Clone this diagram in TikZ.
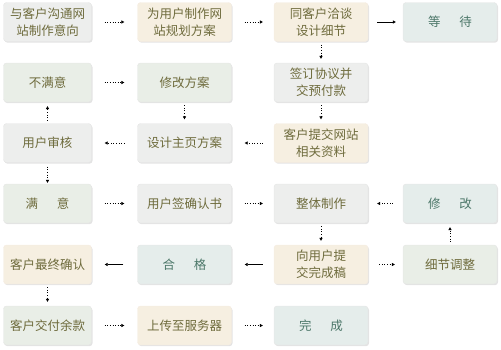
\documentclass[tikz,border=0pt]{standalone}
\usepackage{xcolor}
\usepackage{fontspec}
\setmainfont{Noto Sans CJK SC}
\usepackage{tikz}
\usetikzlibrary{arrows.meta,shadows}

\definecolor{gryfill}{HTML}{EDEEED}
\definecolor{bgefill}{HTML}{F6EFE1}
\definecolor{grnfill}{HTML}{E9EEE7}
\definecolor{blufill}{HTML}{E5EDEB}
\definecolor{olivetxt}{HTML}{6E6B3C}
\definecolor{tealtxt}{HTML}{4C7769}

\begin{document}
\begin{tikzpicture}[
  x=1pt, y=-1pt,
  every node/.style={font=\fontsize{12.5}{17}\selectfont},
  box/.style={draw=black!10, rounded corners=3pt, inner sep=2pt,
              minimum width=94pt, minimum height=39pt, align=center,
              text=olivetxt, line width=0.4pt,
              drop shadow={shadow xshift=1pt, shadow yshift=-1.2pt,
                           fill=black!18, opacity=0.6}},
  gry/.style={box, fill=gryfill},
  bge/.style={box, fill=bgefill, draw=brown!15},
  grn/.style={box, fill=grnfill},
  blu/.style={box, fill=blufill, text=tealtxt},
  narrow/.style={minimum width=88pt},
  dot/.style={dotted, line width=0.6pt, -{Triangle[length=3pt,width=3.2pt]}},
  sol/.style={line width=0.7pt, -{Triangle[length=3pt,width=3.2pt]}},
]
  \useasboundingbox (0,0) rectangle (501,349);

  % Row one
  \node[gry, narrow] (talk) at (47.5, 22) {与客户沟通网\\站制作意向};
  \node[bge] (plan) at (184.5, 22) {为用户制作网\\站规划方案};
  \node[bge] (detail) at (321, 22) {同客户洽谈\\设计细节};
  \node[blu] (wait) at (450, 22) {等\hspace{1.5em}待};

  % Row two
  \node[grn, narrow] (unhappy) at (47.5, 82.5) {不满意};
  \node[grn] (revplan) at (184.5, 82.5) {修改方案};
  \node[gry] (sign) at (321, 82.5) {签订协议并\\交预付款};

  % Row three
  \node[gry, narrow] (review) at (47.5, 143) {用户审核};
  \node[gry] (home) at (184.5, 143) {设计主页方案};
  \node[bge] (material) at (321, 143) {客户提交网站\\相关资料};

  % Row four
  \node[grn, narrow] (happy) at (47.5, 203.5) {满\hspace{1.5em}意};
  \node[gry] (confirm) at (184.5, 203.5) {用户签确认书};
  \node[gry] (build) at (321, 203.5) {整体制作};
  \node[blu] (modify) at (450, 203.5) {修\hspace{1.5em}改};

  % Row five
  \node[bge, narrow] (final) at (47.5, 264.5) {客户最终确认};
  \node[blu] (pass) at (184.5, 264.5) {合\hspace{1.5em}格};
  \node[bge] (draft) at (321, 264.5) {向用户提\\交完成稿};
  \node[grn] (adjust) at (450, 264.5) {细节调整};

  % Row six
  \node[grn, narrow] (balance) at (47.5, 325.5) {客户交付余款};
  \node[bge] (upload) at (184.5, 325.5) {上传至服务器};
  \node[blu] (done) at (321, 325.5) {完\hspace{1.5em}成};

  % Arrows: left to right
  \draw[dot, shorten <=13pt, shorten >=13pt] (talk.east) -- (plan.west);
  \draw[dot, shorten <=13pt, shorten >=11pt] (plan.east) -- (detail.west);
  \draw[sol, shorten <=9pt, shorten >=7pt] (detail.east) -- (wait.west);
  \draw[dot, shorten <=13pt, shorten >=13pt] (unhappy.east) -- (revplan.west);
  \draw[dot, shorten <=13pt, shorten >=13pt] (happy.east) -- (confirm.west);
  \draw[dot, shorten <=13pt, shorten >=11pt] (confirm.east) -- (build.west);
  \draw[dot, shorten <=11pt, shorten >=8pt] (draft.east) -- (adjust.west);
  \draw[dot, shorten <=13pt, shorten >=13pt] (balance.east) -- (upload.west);
  \draw[dot, shorten <=13pt, shorten >=11pt] (upload.east) -- (done.west);

  % Arrows: right to left
  \draw[dot, shorten <=11pt, shorten >=13pt] (material.west) -- (home.east);
  \draw[dot, shorten <=13pt, shorten >=13pt] (home.west) -- (review.east);
  \draw[dot, shorten <=10pt, shorten >=9pt] (modify.west) -- (build.east);
  \draw[sol, shorten <=11pt, shorten >=13pt] (draft.west) -- (pass.east);
  \draw[sol, shorten <=14pt, shorten >=13pt] (pass.west) -- (final.east);

  % Arrows: up and down
  \draw[dot, shorten <=3pt, shorten >=4pt] (detail.south) -- (sign.north);
  \draw[dot, shorten <=3pt, shorten >=4pt] (sign.south) -- (material.north);
  \draw[dot, shorten <=3pt, shorten >=4pt] (revplan.south) -- (home.north);
  \draw[dot, shorten <=3pt, shorten >=4pt] (review.north) -- (unhappy.south);
  \draw[dot, shorten <=4pt, shorten >=1pt] (review.south) -- (happy.north);
  \draw[dot, shorten <=3pt, shorten >=4pt] (build.south) -- (draft.north);
  \draw[dot, shorten <=3pt, shorten >=4pt] (adjust.north) -- (modify.south);
  \draw[dot, shorten <=3pt, shorten >=4pt] (final.south) -- (balance.north);
\end{tikzpicture}
\end{document}
